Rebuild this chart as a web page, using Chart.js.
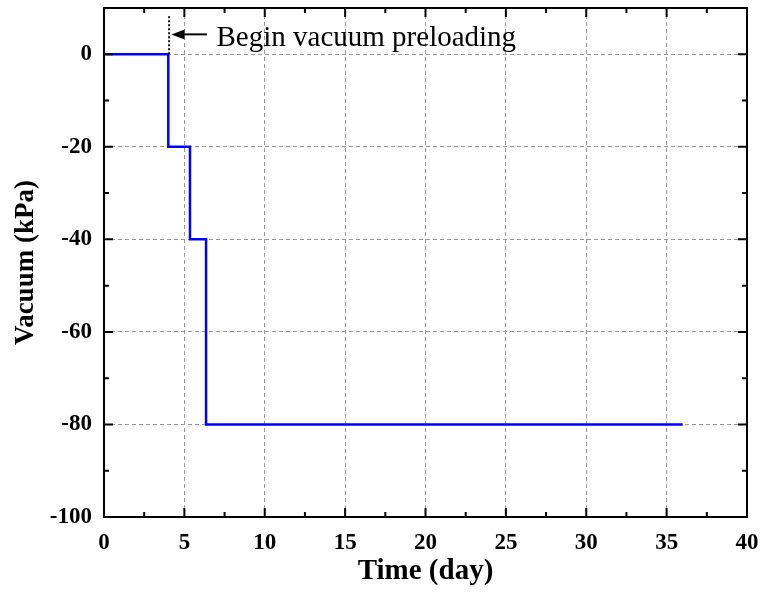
<!DOCTYPE html>
<html>
<head>
<meta charset="utf-8">
<script src="https://cdn.jsdelivr.net/npm/chart.js@4.4.0/dist/chart.umd.min.js"></script>
<style>
  html, body { margin: 0; padding: 0; background: #fff; }
  #wrap { width: 762px; height: 597px; }
</style>
</head>
<body>
<div id="wrap"><canvas id="vacuumChart"></canvas></div>
<script>
// vacuum loading steps (day, kPa)
const days = [0, 4, 5.35, 6.35, 36];
const vacuum = [0, -20, -40, -80, -80];

// tick labels on both axes
const xTicks = [0, 5, 10, 15, 20, 25, 30, 35, 40];
const yTicks = [-100, -80, -60, -40, -20, 0];

// where the loading starts
const startDay = 4.05;
const noteText = 'Begin vacuum preloading';

const serif = '"Liberation Serif", "Times New Roman", serif';

// frame, inward ticks (major + minor) and the note
const framePlugin = {
  id: 'frame',
  afterDraw(chart) {
    const { ctx, chartArea: a, scales: { x, y } } = chart;
    ctx.save();
    ctx.strokeStyle = '#000';
    ctx.lineWidth = 2;
    ctx.setLineDash([]);

    // ticks: major ones a bit longer
    ctx.beginPath();
    for (let v = 0; v <= 40; v += 2.5) {
      const px = x.getPixelForValue(v);
      const len = v % 5 === 0 ? 9 : 5;
      ctx.moveTo(px, a.bottom); ctx.lineTo(px, a.bottom - len);
      ctx.moveTo(px, a.top); ctx.lineTo(px, a.top + len);
    }
    for (let v = -100; v <= 0; v += 10) {
      const py = y.getPixelForValue(v);
      const len = v % 20 === 0 ? 9 : 5;
      ctx.moveTo(a.left, py); ctx.lineTo(a.left + len, py);
      ctx.moveTo(a.right, py); ctx.lineTo(a.right - len, py);
    }
    ctx.stroke();
    ctx.strokeRect(a.left, a.top, a.right - a.left, a.bottom - a.top);

    // dotted marker at the start of loading
    const sx = x.getPixelForValue(startDay);
    ctx.lineWidth = 2;
    ctx.setLineDash([2, 2]);
    ctx.beginPath();
    ctx.moveTo(sx, y.getPixelForValue(0));
    ctx.lineTo(sx, y.getPixelForValue(8.5));
    ctx.stroke();

    // arrow pointing at it
    const ay = y.getPixelForValue(4.3);
    const tip = x.getPixelForValue(4.2);
    const tail = x.getPixelForValue(6.4);
    ctx.setLineDash([]);
    ctx.beginPath();
    ctx.moveTo(tail, ay); ctx.lineTo(tip + 8, ay);
    ctx.stroke();
    ctx.fillStyle = '#000';
    ctx.beginPath();
    ctx.moveTo(tip, ay);
    ctx.lineTo(tip + 13, ay - 5);
    ctx.lineTo(tip + 13, ay + 5);
    ctx.closePath();
    ctx.fill();

    ctx.font = '29px ' + serif;
    ctx.textBaseline = 'alphabetic';
    ctx.textAlign = 'left';
    ctx.fillText(noteText, x.getPixelForValue(7.0), y.getPixelForValue(1.7));
    ctx.restore();
  }
};

const gridColor = (ctx, ends) =>
  ends.includes(ctx.tick && ctx.tick.value) ? 'rgba(0,0,0,0)' : '#9a9a9a';

const ctx = document.getElementById('vacuumChart').getContext('2d');
const vacuumChart = new Chart(ctx, {
  type: 'line',
  data: {
    datasets: [{
      data: days.map((d, i) => ({ x: d, y: vacuum[i] })),
      borderColor: '#0000ff',
      borderWidth: 2.5,
      pointRadius: 0,
      fill: false,
      stepped: 'before'
    }]
  },
  options: {
    responsive: true,
    maintainAspectRatio: false,
    animation: false,
    layout: { padding: { top: 8, right: 15, left: 0, bottom: 0 } },
    plugins: {
      legend: { display: false },
      tooltip: { enabled: false }
    },
    scales: {
      x: {
        type: 'linear',
        min: 0,
        max: 40,
        afterFit: s => { s.height = 80; s.paddingLeft = 0; s.paddingRight = 0; },
        afterBuildTicks: s => { s.ticks = xTicks.map(v => ({ value: v })); },
        grid: { color: c => gridColor(c, [0, 40]), drawTicks: false, lineWidth: 1 },
        border: { display: false, dash: [4, 3] },
        ticks: {
          padding: 12,
          color: '#000',
          font: { family: serif, size: 23, weight: 'bold' }
        },
        title: {
          display: true,
          text: 'Time (day)',
          color: '#000',
          font: { family: serif, size: 29, weight: 'bold' },
          padding: { top: 0, bottom: 8 }
        }
      },
      y: {
        min: -100,
        max: 10,
        afterFit: s => { s.width = 104; s.paddingTop = 0; s.paddingBottom = 0; },
        afterBuildTicks: s => { s.ticks = yTicks.map(v => ({ value: v })); },
        grid: { color: c => gridColor(c, [-100]), drawTicks: false, lineWidth: 1 },
        border: { display: false, dash: [4, 3] },
        ticks: {
          padding: 12,
          color: '#000',
          font: { family: serif, size: 23, weight: 'bold' }
        },
        title: {
          display: true,
          text: 'Vacuum (kPa)',
          color: '#000',
          font: { family: serif, size: 27, weight: 'bold' },
          padding: { top: 10, bottom: 0 }
        }
      }
    }
  },
  plugins: [framePlugin]
});
</script>
</body>
</html>
